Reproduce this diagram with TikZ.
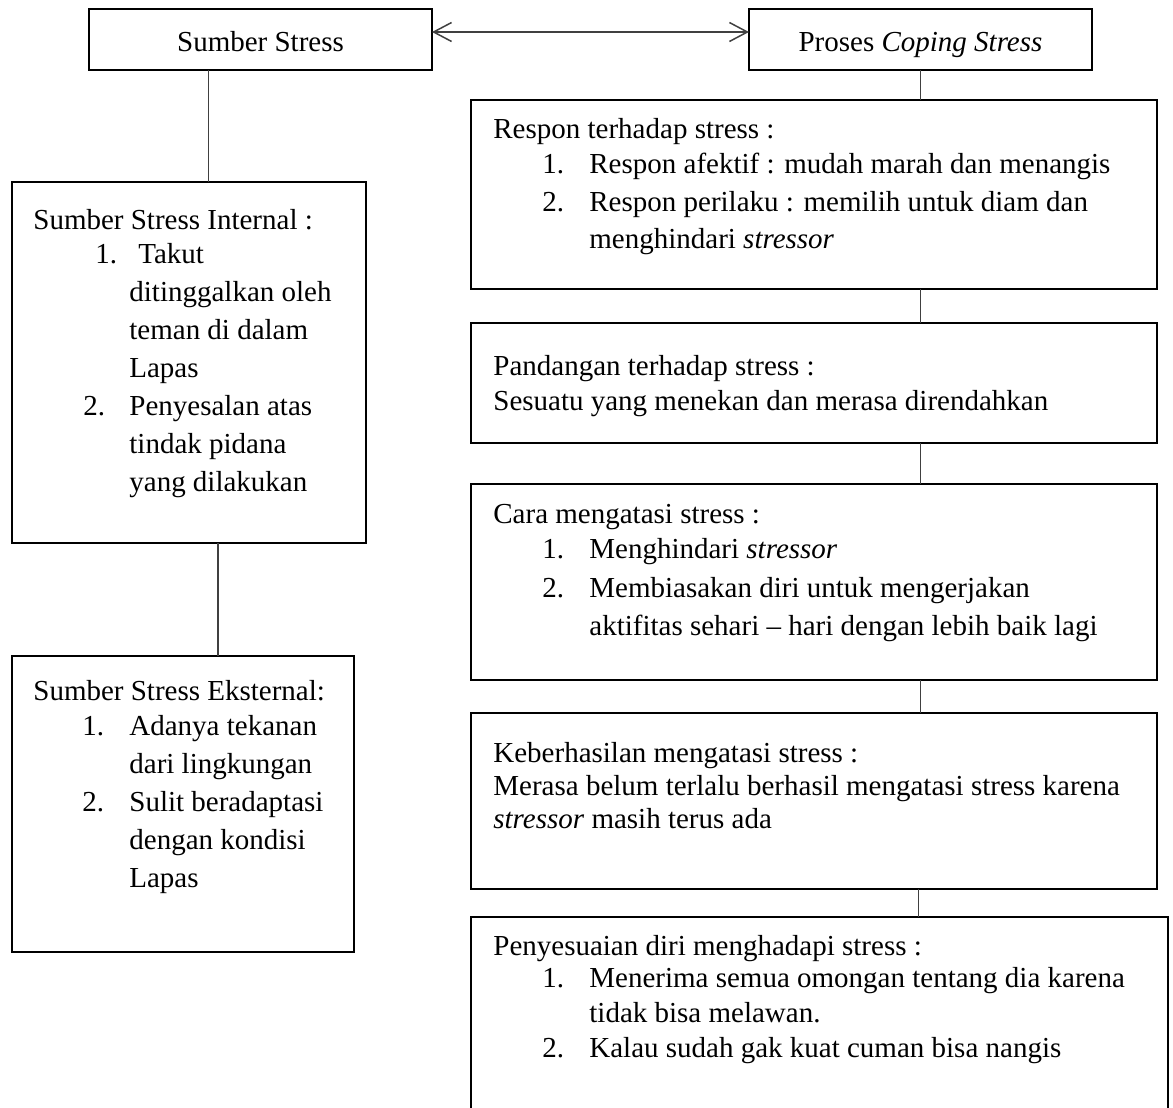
\documentclass[tikz,border=0pt]{standalone}
\usepackage{fontspec}
\setmainfont{Liberation Serif}
\usetikzlibrary{arrows.meta}

\newcommand{\body}{\fontsize{14.5pt}{19pt}\selectfont}
\newcommand{\lines}[1]{\begin{tabular}[t]{@{}l@{}}#1\end{tabular}}
\newcommand{\nitem}[2]{\hspace*{24.5pt}\makebox[23.5pt][l]{#1}#2}
\newcommand{\ncont}[1]{\hspace*{48pt}#1}

\tikzset{
  box/.style={draw, line width=1.25pt, outer sep=0pt, inner sep=0pt, anchor=north west},
  title/.style={box, minimum width=171.5pt, minimum height=30.5pt, font=\body, text height=14.5pt, text depth=3pt},
  words/.style={inner sep=0pt, anchor=base west, font=\body},
  link/.style={draw=black!75, line width=0.75pt},
  both/.style={link, {Straight Barb[length=9pt,width=9.5pt]}-{Straight Barb[length=9pt,width=9.5pt]}},
}

\begin{document}
\begin{tikzpicture}[x=0.5pt, y=-0.5pt]
    \useasboundingbox (0,0) rectangle (1173,1108);
    \clip (0,0) rectangle (1173,1108);

    % Kotak atas
    \node[title] (sumber) at (89,9) {Sumber Stress};
    \node[title] (proses) at (749,9) {Proses \textit{Coping Stress}};
    \draw[both] ([yshift=3.75pt]sumber.east) -- ([yshift=3.75pt]proses.west);

    % Kolom kiri: sumber stress
    \node[box, minimum width=177pt, minimum height=180.5pt] (internal) at (12,182) {};
    \node[words] (internaltext) at (33,229) {\lines{
        Sumber Stress Internal :\\[-2pt]
        \hspace*{31pt}\makebox[21.5pt][l]{1.}Takut\\
        \ncont{ditinggalkan oleh}\\
        \ncont{teman di dalam}\\
        \ncont{Lapas}\\
        \hspace*{25pt}\makebox[23pt][l]{2.}Penyesalan atas\\
        \ncont{tindak pidana}\\
        \ncont{yang dilakukan}}};

    \node[box, minimum width=171pt, minimum height=148pt] (eksternal) at (12,656) {};
    \node[words] (eksternaltext) at (33,700) {\lines{
        Sumber Stress Eksternal:\\[-1.5pt]
        \nitem{1.}{Adanya tekanan}\\
        \ncont{dari lingkungan}\\
        \nitem{2.}{Sulit beradaptasi}\\
        \ncont{dengan kondisi}\\
        \ncont{Lapas}}};

    \draw[link] ([xshift=-26pt]sumber.south) -- ([xshift=-26pt]sumber.south |- internal.north);
    \draw[link] ([xshift=14.5pt]internal.south) -- ([xshift=14.5pt]internal.south |- eksternal.north);

    % Kolom kanan: proses coping stress
    \node[box, minimum width=343pt, minimum height=94.5pt] (respon) at (471,100) {};
    \node[words] (respontext) at (493,138) {\lines{
        Respon terhadap stress :\\[-1.5pt]
        \nitem{1.}{Respon afektif : mudah marah dan menangis}\\
        \nitem{2.}{Respon perilaku : memilih untuk diam dan}\\[-0.5pt]
        \ncont{menghindari \textit{stressor}}}};

    \node[box, minimum width=343pt, minimum height=60pt] (pandangan) at (471,323) {};
    \node[words] (pandangantext) at (493,375) {\lines{
        Pandangan terhadap stress :\\[-1.5pt]
        Sesuatu yang menekan dan merasa direndahkan}};

    \node[box, minimum width=343pt, minimum height=98pt] (cara) at (471,484) {};
    \node[words] (caratext) at (493,523) {\lines{
        Cara mengatasi stress :\\[-1.5pt]
        \nitem{1.}{Menghindari \textit{stressor}}\\[0.5pt]
        \nitem{2.}{Membiasakan diri untuk mengerjakan}\\
        \ncont{aktifitas sehari -- hari dengan lebih baik lagi}}};

    \node[box, minimum width=343pt, minimum height=88pt] (berhasil) at (471,713) {};
    \node[words] (berhasiltext) at (493,762) {\lines{
        Keberhasilan mengatasi stress :\\[-2.5pt]
        Merasa belum terlalu berhasil mengatasi stress karena\\[-2.5pt]
        \textit{stressor} masih terus ada}};

    \node[box, minimum width=348.5pt, minimum height=101.5pt] (penyesuaian) at (471,917) {};
    \node[words] (penyesuaiantext) at (493,955) {\lines{
        Penyesuaian diri menghadapi stress :\\[-3pt]
        \nitem{1.}{Menerima semua omongan tentang dia karena}\\[-1.5pt]
        \ncont{tidak bisa melawan.}\\[-1.5pt]
        \nitem{2.}{Kalau sudah gak kuat cuman bisa nangis}}};

    \draw[link] (proses.south) -- (proses.south |- respon.north);
    \draw[link] (proses.south |- respon.south) -- (proses.south |- pandangan.north);
    \draw[link] (proses.south |- pandangan.south) -- (proses.south |- cara.north);
    \draw[link] (proses.south |- cara.south) -- (proses.south |- berhasil.north);
    \draw[link] ([xshift=-1pt]proses.south |- berhasil.south) -- ([xshift=-1pt]proses.south |- penyesuaian.north);

\end{tikzpicture}
\end{document}
